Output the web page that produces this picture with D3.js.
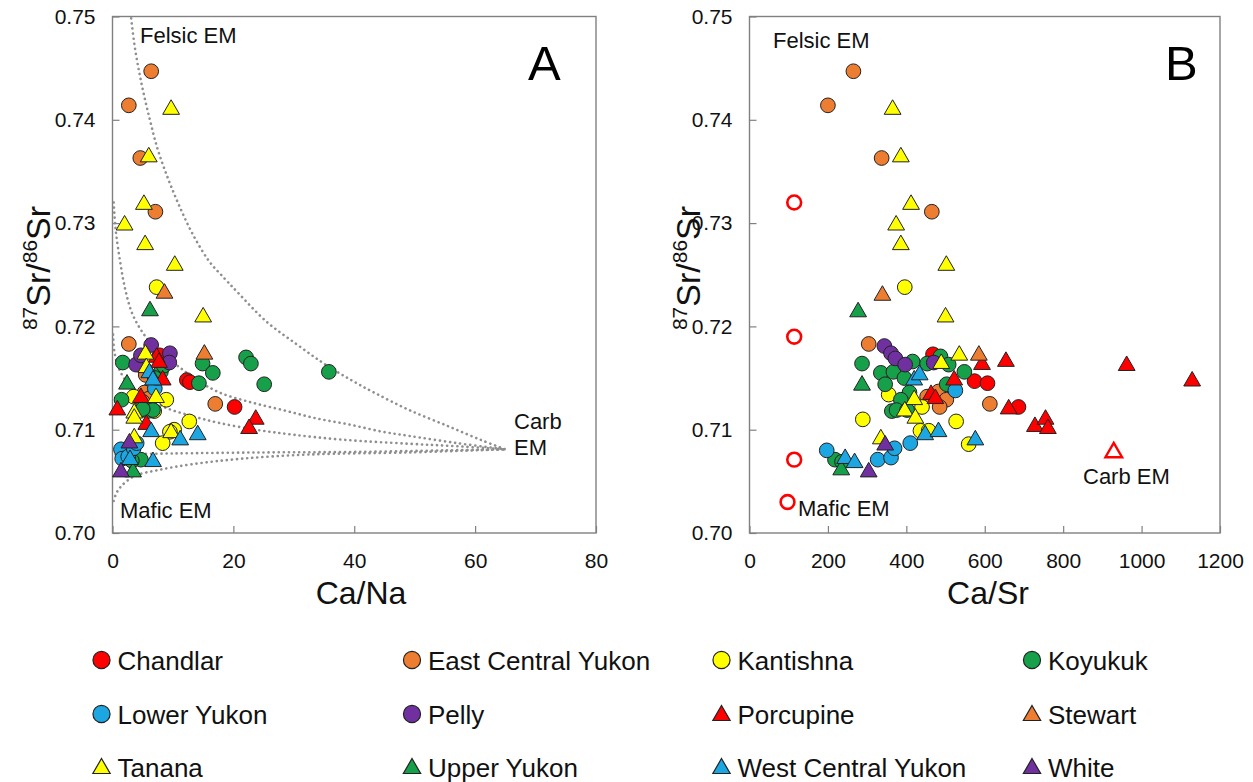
<!DOCTYPE html>
<html><head><meta charset="utf-8">
<script src="https://cdn.jsdelivr.net/npm/d3@7"></script>
<style>body{margin:0;background:#fff}</style>
</head><body><svg id="c" width="1253" height="782"></svg>
<script>
// ---------- DATA ----------
const seriesNames = ["Chandlar","East Central Yukon","Kantishna","Koyukuk","Lower Yukon","Pelly","Porcupine","Stewart","Tanana","Upper Yukon","West Central Yukon","White"];
const xTicksA = [0,20,40,60,80];
const xTicksB = [0,200,400,600,800,1000,1200];
const yTicks = [0.70,0.71,0.72,0.73,0.74,0.75];

// Panel A: [Ca/Na, 87Sr/86Sr]
const chandlarA = [[7.8,0.7172],[12.3,0.7148],[12.8,0.7146],[20.2,0.7122]];
const ecyA = [[6.4,0.7447],[2.7,0.7414],[4.6,0.7363],[7.1,0.7311],[2.7,0.7183],[17.0,0.7125],[5.5,0.7153],[5.3,0.7136],[6.0,0.7130],[5.0,0.7127]];
const kantishnaA = [[7.3,0.7238],[3.5,0.7132],[8.9,0.7129],[6.9,0.7118],[12.7,0.7108],[10.2,0.7100],[9.5,0.7098],[8.3,0.7087]];
const koyukukA = [[1.7,0.7165],[14.9,0.7164],[16.6,0.7155],[14.3,0.7145],[22.1,0.7170],[22.9,0.7164],[25.1,0.7144],[35.8,0.7156],[1.5,0.7129],[5.8,0.7118],[8.0,0.7156],[6.7,0.7119],[4.7,0.7071],[8.5,0.7162],[7.0,0.7150],[3.2,0.7070],[5.0,0.7120]];
const lowerYukonA = [[1.4,0.7081],[1.6,0.7072],[2.6,0.7074],[3.5,0.7082],[4.0,0.7087],[7.0,0.7140]];
const pellyA = [[6.4,0.7182],[9.5,0.7174],[9.4,0.7165],[3.9,0.7163],[4.7,0.7172]];
const porcupineA = [[7.3,0.7170],[7.7,0.7165],[8.3,0.7148],[4.7,0.7131],[0.8,0.7119],[5.6,0.7105],[23.7,0.7110],[22.6,0.7101]];
const stewartA = [[8.6,0.7232],[15.2,0.7173]];
const tananaA = [[9.7,0.7410],[6.0,0.7364],[5.2,0.7318],[2.0,0.7298],[5.4,0.7279],[10.3,0.7259],[15.0,0.7209],[5.45,0.7173],[5.6,0.7160],[7.2,0.7131],[3.6,0.7116],[3.6,0.7111],[9.7,0.7097],[3.6,0.7092]];
const upperYukonA = [[6.2,0.7215],[2.4,0.7144],[3.4,0.7059]];
const wcyA = [[6.1,0.7155],[6.7,0.7148],[6.4,0.7098],[11.2,0.7090],[14.1,0.7095],[2.9,0.7071],[6.7,0.7069]];
const whiteA = [[2.8,0.7087],[1.4,0.7059]];

// Panel B: [Ca/Sr, 87Sr/86Sr]
const chandlarB = [[468,0.7173],[574,0.7147],[607,0.7145],[686,0.7122]];
const ecyB = [[265,0.7447],[200,0.7414],[337,0.7363],[465,0.7311],[304,0.7183],[613,0.7125],[453,0.7132],[482,0.7137],[502,0.7129],[485,0.7122]];
const kantishnaB = [[396,0.7238],[355,0.7134],[289,0.7110],[527,0.7108],[440,0.7122],[436,0.7099],[457,0.7099],[559,0.7086]];
const koyukukB = [[287,0.7164],[335,0.7155],[367,0.7156],[346,0.7144],[395,0.7150],[416,0.7166],[453,0.7164],[487,0.7171],[508,0.7163],[548,0.7156],[503,0.7144],[408,0.7136],[386,0.7129],[363,0.7118],[375,0.7119],[402,0.7119],[218,0.7071],[236,0.7069]];
const lowerYukonB = [[197,0.7080],[327,0.7071],[361,0.7073],[370,0.7082],[410,0.7087],[525,0.7138]];
const pellyB = [[344,0.7181],[361,0.7174],[372,0.7169],[397,0.7163],[470,0.7165]];
const porcupineB = [[654,0.7166],[593,0.7163],[522,0.7148],[463,0.7134],[474,0.7130],[661,0.7120],[962,0.7162],[1129,0.7147],[728,0.7103],[755,0.7110],[761,0.7101]];
const stewartB = [[339,0.7230],[585,0.7172]];
const tananaB = [[365,0.7410],[386,0.7364],[412,0.7318],[374,0.7298],[386,0.7279],[502,0.7259],[500,0.7209],[489,0.7164],[535,0.7172],[420,0.7129],[396,0.7118],[423,0.7111],[335,0.7091]];
const upperYukonB = [[277,0.7214],[287,0.7143],[234,0.7061]];
const wcyB = [[420,0.7148],[434,0.7153],[448,0.7095],[482,0.7098],[576,0.7090],[244,0.7072],[268,0.7068]];
const whiteB = [[346,0.7085],[304,0.7059]];

// End-members in panel B
const endCirclesB = [[114,0.7320],[114,0.7190],[114,0.7071],[97,0.7030]];
const endTriangleB = [[929,0.7078]];

// Mixing curves in panel A
const mixCurve1 = [[2.9,0.7508],[3.7,0.7470],[4.8,0.7435],[6.1,0.7402],[7.5,0.7371],[9.2,0.7343],[11.1,0.7316],[13.3,0.7289],[16.0,0.7263],[18.6,0.7246],[20.7,0.7233],[25.4,0.7205],[30.4,0.7183],[35.0,0.7164],[39.5,0.7148],[43.6,0.7135],[49.1,0.7119],[55.7,0.7103],[61.0,0.7090],[65.0,0.7081]];
const mixCurve2 = [[0.2,0.7320],[0.5,0.7295],[1.2,0.7265],[2.1,0.7236],[3.3,0.7212],[5.0,0.7194],[7.5,0.7176],[10.5,0.7163],[14.0,0.7148],[17.7,0.7136],[22.6,0.7127],[28.2,0.7119],[33.7,0.7111],[39.2,0.7105],[44.7,0.7098],[49.1,0.7094],[57.0,0.7087],[65.0,0.7081]];
const mixCurve3 = [[0.1,0.7192],[0.3,0.7176],[1.0,0.7160],[2.5,0.7145],[5.0,0.7132],[8.9,0.7121],[13.3,0.7113],[17.7,0.71065],[23.7,0.7100],[29.8,0.70952],[38.1,0.70903],[49.1,0.70864],[57.0,0.7084],[65.0,0.7081]];
const mixCurve4 = [[0.5,0.7076],[10,0.7077],[25,0.7078],[40,0.70785],[55,0.7080],[65,0.7081]];
const mixCurve5 = [[0.2,0.7031],[0.6,0.7038],[1.4,0.7045],[3.6,0.7055],[7.6,0.7061],[13.1,0.70665],[21.5,0.7072],[32.6,0.7076],[49.1,0.7078],[65,0.7081]];

// ---------- STYLES ----------
const shapes = ["circle","circle","circle","circle","circle","circle","triangle","triangle","triangle","triangle","triangle","triangle"];
const colors = ["#ff0000","#ed7d31","#ffff00","#16a04a","#1ca7e3","#7030a0","#ff0000","#ed7d31","#ffff00","#16a04a","#1ca7e3","#7030a0"];
const dataA = [chandlarA,ecyA,kantishnaA,koyukukA,lowerYukonA,pellyA,porcupineA,stewartA,tananaA,upperYukonA,wcyA,whiteA];
const dataB = [chandlarB,ecyB,kantishnaB,koyukukB,lowerYukonB,pellyB,porcupineB,stewartB,tananaB,upperYukonB,wcyB,whiteB];

const FF = '"Liberation Sans", Arial, Helvetica, sans-serif';
const svg = d3.select("#c").style("font-family", FF);

const y = d3.scaleLinear().domain([0.70,0.75]).range([533,16.5]);
const xA = d3.scaleLinear().domain([0,80]).range([112.5,596]);
const xB = d3.scaleLinear().domain([0,1200]).range([749.5,1220]);

const symCircle = d3.symbol().type(d3.symbolCircle).size(170);
const symTri = d3.symbol().type(d3.symbolTriangle).size(122);

function drawFrame(x, xTicks, xTitle, xTitleX, yTitleX, clipId) {
  const g = svg.append("g");
  const [x0,x1] = x.range();
  const ax = g.append("g").attr("transform",`translate(0,${y.range()[0]})`)
    .call(d3.axisBottom(x).tickValues(xTicks).tickFormat(d3.format("d")).tickSizeInner(-7).tickSizeOuter(0).tickPadding(20));
  const ay = g.append("g").attr("transform",`translate(${x0},0)`)
    .call(d3.axisLeft(y).tickValues(yTicks).tickFormat(d3.format(".2f")).tickSizeInner(-7).tickSizeOuter(0).tickPadding(17));
  [ax,ay].forEach(a=>{
    a.select(".domain").remove();
    a.selectAll("line").attr("stroke","#808080").attr("stroke-width",1.2);
    a.selectAll("text").attr("font-size",21).attr("font-family",FF).attr("fill","#111");
  });
  g.append("rect").attr("x",x0).attr("y",y.range()[1]).attr("width",x1-x0).attr("height",y.range()[0]-y.range()[1])
    .attr("fill","none").attr("stroke","#808080").attr("stroke-width",1.4);
  g.append("text").attr("x",xTitleX).attr("y",604).attr("text-anchor","middle").attr("font-size",32).attr("fill","#111").text(xTitle);
  const t = g.append("text").attr("transform",`translate(${yTitleX},268) rotate(-90)`).attr("text-anchor","middle").attr("font-size",34).attr("fill","#111");
  t.append("tspan").attr("font-size",21).attr("dy",-13).text("87");
  t.append("tspan").attr("dy",13).text("Sr/");
  t.append("tspan").attr("font-size",21).attr("dy",-13).text("86");
  t.append("tspan").attr("dy",13).text("Sr");
  svg.append("clipPath").attr("id",clipId).append("rect").attr("x",x0).attr("y",y.range()[1]).attr("width",x1-x0).attr("height",y.range()[0]-y.range()[1]);
}

function drawPoints(x, data) {
  const g = svg.append("g");
  data.forEach((pts,i)=>{
    g.selectAll(null).data(pts).join("path")
      .attr("transform",d=>`translate(${x(d[0])},${y(d[1])})`)
      .attr("d", shapes[i]==="circle" ? symCircle() : symTri())
      .attr("fill",colors[i]).attr("stroke","#222").attr("stroke-width",1);
  });
}

// Panel A
drawFrame(xA, xTicksA, "Ca/Na", 361, 50, "clipA");
const line = d3.line().x(d=>xA(d[0])).y(d=>y(d[1])).curve(d3.curveCatmullRom.alpha(0.5));
svg.append("g").attr("clip-path","url(#clipA)").selectAll("path")
  .data([mixCurve1,mixCurve2,mixCurve3,mixCurve4,mixCurve5]).join("path")
  .attr("d",line).attr("fill","none").attr("stroke","#8f8f8f").attr("stroke-width",2.6)
  .attr("stroke-linecap","round").attr("stroke-dasharray","0.1 5");
drawPoints(xA, dataA);
svg.append("text").attr("x",140).attr("y",43).attr("font-size",22).attr("fill","#111").text("Felsic EM");
svg.append("text").attr("x",528).attr("y",80).attr("font-size",49).attr("fill","#000").text("A");
svg.append("text").attr("x",514).attr("y",429).attr("font-size",22).attr("fill","#111").text("Carb");
svg.append("text").attr("x",514).attr("y",455).attr("font-size",22).attr("fill","#111").text("EM");
svg.append("text").attr("x",120).attr("y",518).attr("font-size",22).attr("fill","#111").text("Mafic EM");

// Panel B
drawFrame(xB, xTicksB, "Ca/Sr", 988, 700, "clipB");
drawPoints(xB, dataB);
svg.append("g").selectAll("path").data(endCirclesB).join("path")
  .attr("transform",d=>`translate(${xB(d[0])},${y(d[1])})`).attr("d",d3.symbol().type(d3.symbolCircle).size(150)())
  .attr("fill","#fff").attr("stroke","#ff0000").attr("stroke-width",2.6);
svg.append("g").selectAll("path").data(endTriangleB).join("path")
  .attr("transform",d=>`translate(${xB(d[0])},${y(d[1])})`).attr("d",d3.symbol().type(d3.symbolTriangle).size(120)())
  .attr("fill","#fff").attr("stroke","#ff0000").attr("stroke-width",2.4);
svg.append("text").attr("x",773).attr("y",48).attr("font-size",22).attr("fill","#111").text("Felsic EM");
svg.append("text").attr("x",1165).attr("y",80).attr("font-size",49).attr("fill","#000").text("B");
svg.append("text").attr("x",1083).attr("y",484).attr("font-size",22).attr("fill","#111").text("Carb EM");
svg.append("text").attr("x",798).attr("y",516).attr("font-size",22).attr("fill","#111").text("Mafic EM");

// Legend
const legCols = [101.5, 412, 721.5, 1032];
const legRows = [660, 714, 767];
const lg = svg.append("g");
seriesNames.forEach((name,i)=>{
  const cx = legCols[i%4], cy = legRows[Math.floor(i/4)];
  lg.append("path").attr("transform",`translate(${cx},${cy + (shapes[i]==="triangle"?1.5:0)})`)
    .attr("d", shapes[i]==="circle" ? d3.symbol().type(d3.symbolCircle).size(230)() : d3.symbol().type(d3.symbolTriangle).size(130)())
    .attr("fill",colors[i]).attr("stroke","#222").attr("stroke-width",1.2);
  lg.append("text").attr("x",cx+16).attr("y",cy+9.5).attr("font-size",26).attr("fill","#111").text(name);
});
</script></body></html>
